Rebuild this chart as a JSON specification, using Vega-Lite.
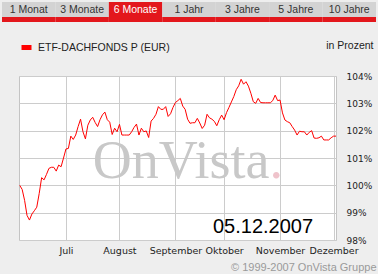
{
  "$schema": "https://vega.github.io/schema/vega-lite/v6.json",
  "background": "#eeeeee",
  "padding": {"left": 2, "top": 2, "right": 2, "bottom": 2},
  "config": {"view": {"stroke": null}},
  "resolve": {"scale": {"color": "independent"}, "legend": {"color": "independent"}},
  "datasets": {
    "tabs": [
      {"tab": "1 Monat", "active": false},
      {"tab": "3 Monate", "active": false},
      {"tab": "6 Monate", "active": true},
      {"tab": "1 Jahr", "active": false},
      {"tab": "3 Jahre", "active": false},
      {"tab": "5 Jahre", "active": false},
      {"tab": "10 Jahre", "active": false}
    ],
    "series": [
      {"t":0,"v":100.0},{"t":1,"v":99.85},{"t":2,"v":99.45},{"t":3,"v":98.9},{"t":4,"v":98.73},
      {"t":5,"v":98.95},{"t":6,"v":99.07},{"t":7,"v":99.2},{"t":8,"v":99.7},{"t":9,"v":100.28},
      {"t":10,"v":100.2},{"t":11,"v":100.4},{"t":12,"v":100.62},{"t":13,"v":100.66},{"t":14,"v":100.66},
      {"t":15,"v":100.52},{"t":16,"v":100.74},{"t":17,"v":100.68},{"t":18,"v":101.0},{"t":19,"v":101.33},
      {"t":20,"v":101.35},{"t":21,"v":101.8},{"t":22,"v":101.68},{"t":23,"v":101.84},{"t":24,"v":102.15},
      {"t":25,"v":102.42},{"t":26,"v":101.96},{"t":27,"v":101.7},{"t":28,"v":102.2},{"t":29,"v":102.39},
      {"t":30,"v":102.49},{"t":31,"v":102.3},{"t":32,"v":102.15},{"t":33,"v":102.4},{"t":34,"v":102.58},
      {"t":35,"v":102.68},{"t":36,"v":102.4},{"t":37,"v":102.31},{"t":38,"v":101.86},{"t":39,"v":102.09},
      {"t":40,"v":101.96},{"t":41,"v":102.23},{"t":42,"v":101.84},{"t":43,"v":101.84},{"t":44,"v":101.84},
      {"t":45,"v":101.84},{"t":46,"v":101.96},{"t":47,"v":102.12},{"t":48,"v":102.24},{"t":49,"v":101.84},
      {"t":50,"v":102.09},{"t":51,"v":101.96},{"t":52,"v":101.99},{"t":53,"v":101.75},{"t":54,"v":102.35},
      {"t":55,"v":102.45},{"t":56,"v":102.6},{"t":57,"v":102.88},{"t":58,"v":102.78},{"t":59,"v":102.78},
      {"t":60,"v":102.88},{"t":61,"v":102.52},{"t":62,"v":102.62},{"t":63,"v":102.85},{"t":64,"v":103.03},
      {"t":65,"v":103.1},{"t":66,"v":103.18},{"t":67,"v":102.9},{"t":68,"v":102.78},{"t":69,"v":102.42},
      {"t":70,"v":102.27},{"t":71,"v":102.29},{"t":72,"v":102.29},{"t":73,"v":102.45},{"t":74,"v":102.28},
      {"t":75,"v":102.08},{"t":76,"v":102.2},{"t":77,"v":102.6},{"t":78,"v":102.47},{"t":79,"v":102.42},
      {"t":80,"v":102.34},{"t":81,"v":102.18},{"t":82,"v":102.4},{"t":83,"v":102.57},{"t":84,"v":102.4},
      {"t":85,"v":102.66},{"t":86,"v":102.85},{"t":87,"v":103.05},{"t":88,"v":103.25},{"t":89,"v":103.5},
      {"t":90,"v":103.64},{"t":91,"v":103.88},{"t":92,"v":103.7},{"t":93,"v":103.79},{"t":94,"v":103.63},
      {"t":95,"v":103.37},{"t":96,"v":103.06},{"t":97,"v":103.0},{"t":98,"v":103.18},{"t":99,"v":103.03},
      {"t":100,"v":103.02},{"t":101,"v":103.02},{"t":102,"v":103.02},{"t":103,"v":103.02},{"t":104,"v":103.1},
      {"t":105,"v":103.3},{"t":106,"v":103.1},{"t":107,"v":103.12},{"t":108,"v":102.65},{"t":109,"v":102.39},
      {"t":110,"v":102.33},{"t":111,"v":102.29},{"t":112,"v":102.15},{"t":113,"v":102.02},{"t":114,"v":101.84},
      {"t":115,"v":101.98},{"t":116,"v":101.96},{"t":117,"v":101.96},{"t":118,"v":101.84},{"t":119,"v":101.94},
      {"t":120,"v":102.0},{"t":121,"v":101.73},{"t":122,"v":101.72},{"t":123,"v":101.74},{"t":124,"v":101.8},
      {"t":125,"v":101.66},{"t":126,"v":101.66},{"t":127,"v":101.66},{"t":128,"v":101.74},{"t":129,"v":101.8},
      {"t":130,"v":101.8}
    ]
  },
  "vconcat": [
    {
      "width": 374,
      "height": 20,
      "data": {"name": "tabs"},
      "layer": [
        {
          "mark": {"type": "bar"},
          "encoding": {
            "x": {"field": "tab", "type": "nominal", "sort": null, "axis": null, "scale": {"paddingInner": 0, "paddingOuter": 0}},
            "y": {"datum": 5, "type": "quantitative", "scale": {"domain": [0, 20]}, "axis": null},
            "y2": {"datum": 20},
            "color": {"condition": {"test": "datum.active", "value": "#e3171c"}, "value": "#d3d3d3"}
          }
        },
        {
          "mark": {"type": "bar", "color": "#e3171c"},
          "encoding": {
            "x": {"field": "tab", "type": "nominal", "sort": null, "axis": null},
            "y": {"datum": 0, "type": "quantitative", "axis": null},
            "y2": {"datum": 5}
          }
        },
        {
          "mark": {"type": "text", "baseline": "middle", "font": "Liberation Sans", "fontSize": 10.5},
          "encoding": {
            "x": {"field": "tab", "type": "nominal", "sort": null, "axis": null},
            "y": {"datum": 12.5, "type": "quantitative", "axis": null},
            "text": {"field": "tab"},
            "color": {"condition": {"test": "datum.active", "value": "#ffffff"}, "value": "#333333"}
          }
        }
      ]
    },
    {
      "spacing": 14,
      "resolve": {"scale": {"color": "independent"}, "legend": {"color": "independent"}},
      "hconcat": [
        {
          "width": 1,
          "height": 1,
          "data": {"values": []},
          "mark": "point",
          "encoding": {}
        },
        {
          "width": 317,
          "height": 164,
          "view": {"fill": "#ffffff", "stroke": "#c4c4c4"},
          "layer": [
            {
              "data": {"values": [{"w": "OnVista"}]},
              "mark": {"type": "text", "align": "right", "baseline": "alphabetic", "font": "Liberation Serif", "fontSize": 54, "color": "#c8c8c8"},
              "encoding": {
                "x": {"datum": 102.7, "type": "quantitative"},
                "y": {"datum": 100.27, "type": "quantitative"},
                "text": {"field": "w"}
              }
            },
            {
              "data": {"values": [{"w": "."}]},
              "mark": {"type": "text", "align": "left", "baseline": "alphabetic", "font": "Liberation Serif", "fontSize": 54, "color": "#efc3cb"},
              "encoding": {
                "x": {"datum": 102.7, "type": "quantitative"},
                "y": {"datum": 100.27, "type": "quantitative"},
                "text": {"field": "w"}
              }
            },
            {
              "data": {"name": "series"},
              "mark": {"type": "line", "strokeWidth": 1, "interpolate": "linear"},
              "encoding": {
                "x": {
                  "field": "t", "type": "quantitative",
                  "scale": {"domain": [-0.3, 130], "nice": false, "zero": false},
                  "axis": {
                    "values": [19, 41, 64, 84, 107, 129],
                    "labelExpr": "['Juli','August','September','Oktober','November','Dezember'][indexof([19,41,64,84,107,129], datum.value)]",
                    "grid": true, "gridColor": "#cccccc", "ticks": false, "domain": false,
                    "labelPadding": 5, "labelFont": "DejaVu Sans", "labelFontSize": 9.5, "labelColor": "#222222",
                    "labelFlush": false, "labelOverlap": false,
                    "title": "© 1999-2007 OnVista Gruppe", "titleX": 357, "titleY": 27,
                    "titleAlign": "right", "titleBaseline": "middle", "titleFont": "Liberation Sans",
                    "titleFontSize": 11, "titleFontWeight": "normal", "titleColor": "#9a9a9a"
                  }
                },
                "y": {
                  "field": "v", "type": "quantitative",
                  "scale": {"domain": [98, 104], "nice": false, "zero": false},
                  "axis": {
                    "orient": "right",
                    "values": [98, 99, 100, 101, 102, 103, 104],
                    "tickCount": 7,
                    "labelExpr": "datum.value + '%'",
                    "grid": true, "gridColor": "#cccccc", "ticks": false, "domain": false,
                    "labelPadding": 10, "labelFont": "DejaVu Sans", "labelFontSize": 9, "labelColor": "#222222",
                    "labelBaseline": "middle", "labelFlush": false, "labelOverlap": false,
                    "title": "in Prozent", "titleAngle": 0, "titleAlign": "right", "titleBaseline": "middle",
                    "titleX": 37, "titleY": -31, "titleFont": "Liberation Sans", "titleFontSize": 10.5,
                    "titleFontWeight": "normal", "titleColor": "#222222"
                  }
                },
                "color": {
                  "datum": "ETF-DACHFONDS P (EUR)", "type": "nominal",
                  "scale": {"range": ["#ff0000"]},
                  "legend": {
                    "orient": "none", "legendX": 0, "legendY": -36, "title": null,
                    "symbolType": "stroke", "symbolSize": 100, "symbolStrokeWidth": 5,
                    "labelFont": "Liberation Sans", "labelFontSize": 10.5, "labelColor": "#222222", "labelOffset": 4
                  }
                }
              }
            },
            {
              "data": {"values": [{"d": "05.12.2007"}]},
              "mark": {"type": "text", "align": "center", "baseline": "alphabetic", "font": "Liberation Sans", "fontSize": 20, "color": "#000000"},
              "encoding": {
                "x": {"datum": 100, "type": "quantitative"},
                "y": {"datum": 98.25, "type": "quantitative"},
                "text": {"field": "d"}
              }
            }
          ]
        }
      ]
    }
  ],
  "spacing": 17
}
